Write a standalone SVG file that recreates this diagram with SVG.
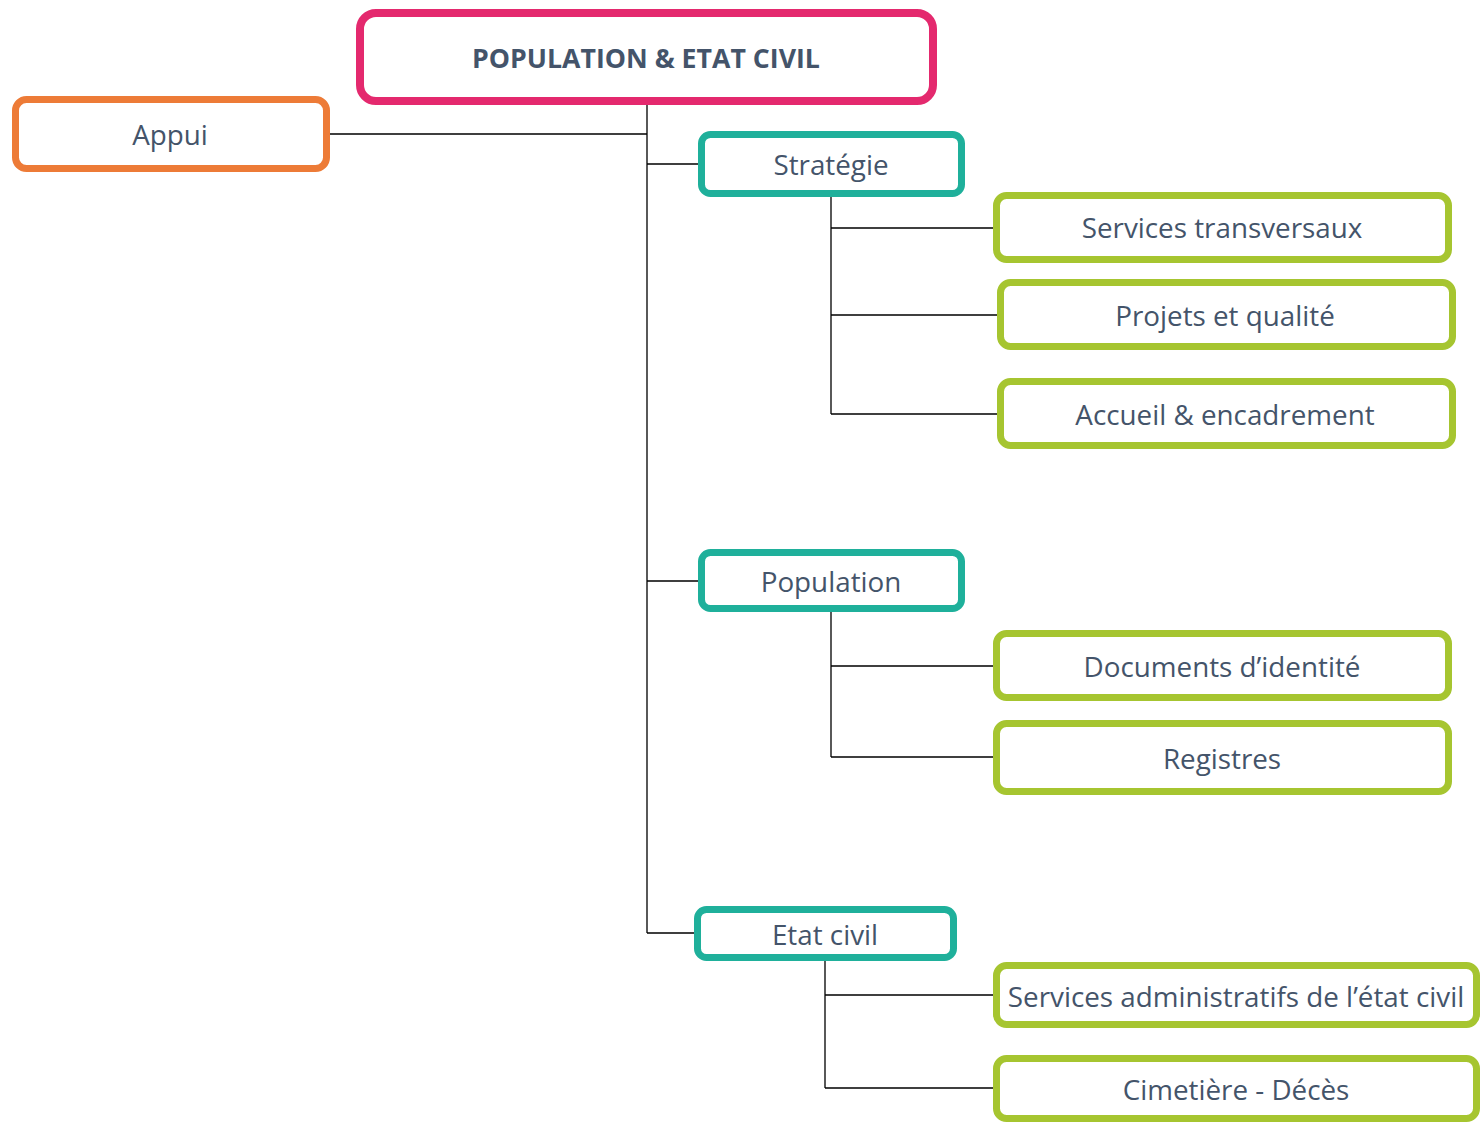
<svg xmlns="http://www.w3.org/2000/svg" width="1483" height="1124" viewBox="0 0 1483 1124">
<style>
.box{fill:#fff;stroke-width:7}
.root{stroke:#E4296E;stroke-width:8}
.appui{stroke:#ED7B37}
.teal{stroke:#1FB09B}
.green{stroke:#A6C530}
text{font-family:"Open Sans","Noto Sans",sans-serif;fill:#44546A;text-anchor:middle;dominant-baseline:central;font-size:27.8px}
.title{font-weight:bold;font-size:26.7px}
.conn{stroke:#000;stroke-width:1.3;fill:none}
</style>
<rect width="1483" height="1124" fill="#fff"/>
<g id="connectors">
<path class="conn" d="M647 105V933M330 134H647M647 164H698M647 581H698M647 933H694"/>
<path class="conn" d="M831 197V414M831 228H993M831 315H997M831 414H997"/>
<path class="conn" d="M831 612V757M831 666H993M831 757H993"/>
<path class="conn" d="M825 961V1088M825 995H993M825 1088H993"/>
</g>
<g id="root"><rect class="box root" x="360" y="13" width="573" height="88" rx="16"/><text class="title" x="646" y="57">POPULATION &amp; ETAT CIVIL</text></g>
<g id="appui"><rect class="box appui" x="15.5" y="99.5" width="311" height="69" rx="11"/><text x="170" y="134">Appui</text></g>
<g id="strategie"><rect class="box teal" x="701.5" y="134.5" width="260" height="59" rx="9"/><text x="831" y="164">Stratégie</text></g>
<g id="population"><rect class="box teal" x="701.5" y="552.5" width="260" height="56" rx="9"/><text x="831" y="581">Population</text></g>
<g id="etatcivil"><rect class="box teal" x="697.5" y="909.5" width="256" height="48" rx="9"/><text x="825" y="934">Etat civil</text></g>
<g id="services-transversaux"><rect class="box green" x="996.5" y="195.5" width="452" height="64" rx="10"/><text x="1222" y="227">Services transversaux</text></g>
<g id="projets-qualite"><rect class="box green" x="1000.5" y="282.5" width="452" height="64" rx="10"/><text x="1225" y="315">Projets et qualité</text></g>
<g id="accueil"><rect class="box green" x="1000.5" y="381.5" width="452" height="64" rx="10"/><text x="1225" y="414">Accueil &amp; encadrement</text></g>
<g id="documents"><rect class="box green" x="996.5" y="633.5" width="452" height="64" rx="10"/><text x="1222" y="666">Documents d’identité</text></g>
<g id="registres"><rect class="box green" x="996.5" y="723.5" width="452" height="68" rx="10"/><text x="1222" y="758">Registres</text></g>
<g id="services-admin"><rect class="box green" x="996.5" y="965.5" width="480" height="59" rx="10"/><text x="1236" y="996">Services administratifs de l’état civil</text></g>
<g id="cimetiere"><rect class="box green" x="996.5" y="1058.5" width="480" height="60" rx="10"/><text x="1236" y="1089">Cimetière - Décès</text></g>
</svg>
